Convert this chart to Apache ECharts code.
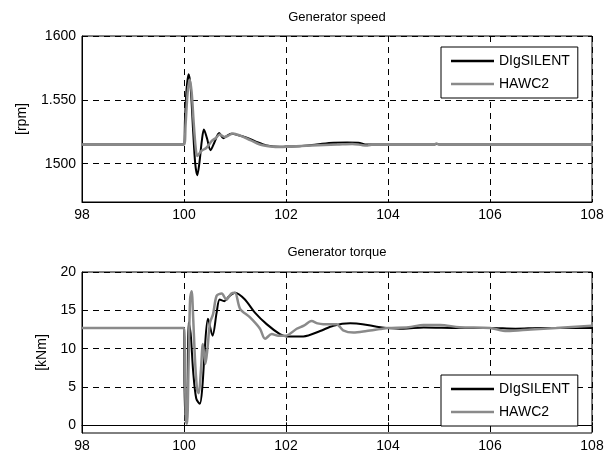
<!DOCTYPE html>
<html>
<head>
<meta charset="utf-8">
<script src="https://cdn.jsdelivr.net/npm/echarts@6/dist/echarts.min.js"></script>
<style>html,body{margin:0;padding:0;background:#fff}#c{width:613px;height:453px}</style>
</head>
<body>
<div id="c"></div>
<script>
// ---- data ----
var xTicks = [98, 100, 102, 104, 106, 108];
var speedTicks = [1500, 1550, 1600];
var speedTickLabels = ['1500', '1.550', '1600'];
var torqueTicks = [0, 5, 10, 15, 20];
var torqueTickLabels = ['0', '5', '10', '15', '20'];

var speedT_dig = [98, 99.99, 100.02, 100.05, 100.09, 100.13, 100.18, 100.22, 100.26, 100.30, 100.35, 100.39, 100.45, 100.52, 100.6, 100.69, 100.77, 100.85, 100.93, 101.05, 101.23, 101.4, 101.62, 101.88, 102.0, 102.27, 102.6, 102.93, 103.2, 103.42, 103.58, 103.8, 104.9, 104.96, 105.02, 108];
var speedV_dig = [1515, 1515, 1535, 1558, 1570, 1560, 1525, 1500, 1491, 1500, 1518, 1526.7, 1520, 1510.6, 1517, 1524, 1520, 1522, 1523.4, 1522.5, 1520.3, 1517.5, 1514.3, 1513.2, 1513.5, 1513.7, 1515, 1516.4, 1516.5, 1516.4, 1515, 1515, 1515, 1515.5, 1515, 1515];

var speedT_hawc = [98, 100.0, 100.03, 100.07, 100.11, 100.15, 100.19, 100.23, 100.26, 100.3, 100.34, 100.44, 100.55, 100.62, 100.70, 100.8, 100.87, 100.96, 101.1, 101.3, 101.49, 101.7, 101.88, 102.1, 102.5, 103.0, 103.3, 103.5, 103.6, 103.7, 104, 104.9, 104.95, 105.0, 108];
var speedV_hawc = [1515, 1515, 1530, 1555, 1566, 1556, 1532, 1512, 1506, 1508, 1510, 1512.5, 1518, 1520, 1522.8, 1521, 1522, 1523.6, 1522, 1518.5, 1515, 1513.5, 1513, 1513.5, 1514.3, 1515, 1515.5, 1514.5, 1514.3, 1515, 1515, 1515, 1515.8, 1515, 1515];

var torqueT_dig = [98, 100.0, 100.01, 100.03, 100.05, 100.07, 100.09, 100.13, 100.18, 100.24, 100.31, 100.36, 100.41, 100.47, 100.56, 100.64, 100.70, 100.79, 100.88, 101.0, 101.19, 101.39, 101.62, 101.88, 102.01, 102.34, 102.67, 102.93, 103.26, 103.5, 103.78, 103.98, 104.3, 104.7, 105.4, 106.0, 106.5, 107.0, 108];
var torqueV_dig = [12.7, 12.7, 5, 0.8, 0.6, 5, 13.4, 12, 7, 3.5, 2.8, 5, 10.2, 13.9, 11.7, 14.7, 16.4, 16.2, 16.8, 17.3, 16.45, 14.7, 13.2, 11.9, 11.6, 11.6, 12.3, 13.0, 13.3, 13.2, 12.86, 12.7, 12.6, 12.77, 12.7, 12.7, 12.6, 12.7, 12.7];

var torqueT_hawc = [98, 100.0, 100.02, 100.04, 100.06, 100.09, 100.12, 100.15, 100.18, 100.22, 100.26, 100.29, 100.33, 100.37, 100.42, 100.46, 100.51, 100.57, 100.64, 100.74, 100.83, 100.93, 101.0, 101.1, 101.29, 101.49, 101.59, 101.72, 101.85, 102.0, 102.21, 102.35, 102.5, 102.62, 102.73, 102.99, 103.12, 103.32, 103.58, 103.84, 104.0, 104.4, 104.7, 105.02, 105.4, 106.0, 106.33, 106.8, 107.3, 108];
var torqueV_hawc = [12.7, 12.7, 6, 0.5, 0.2, 8, 16.5, 17.5, 14, 8, 4.5, 4.2, 7, 10.6, 8.0, 10, 13.4, 14.5, 16.9, 17.2, 16.4, 17.2, 17.3, 15.2, 14.1, 12.6, 11.3, 11.9, 11.7, 11.7, 12.6, 13.0, 13.6, 13.3, 13.2, 13.2, 12.4, 12.1, 12.3, 12.55, 12.7, 12.8, 13.1, 13.1, 12.8, 12.7, 12.3, 12.5, 12.7, 13.0];

function pairs(t, v) { return t.map(function (x, i) { return [x, v[i]]; }); }
function labelFor(ticks, labels) {
  return function (val) { var i = ticks.indexOf(val); return i >= 0 ? labels[i] : ''; };
}

var FONT = "'Liberation Sans', Arial, sans-serif";
var dash = { color: '#000', width: 1, type: [6, 5] };
var BLACK = '#000000', GRAY = '#8a8a8a';

function xAx(gi) {
  return {
    type: 'value', gridIndex: gi, min: 98, max: 108, interval: 2,
    axisLine: { show: true, lineStyle: { color: '#000', width: 1 } },
    axisTick: { show: true, inside: true, length: 3, lineStyle: { color: '#000' } },
    axisLabel: { color: '#000', fontSize: 14, fontFamily: FONT, margin: 6, formatter: labelFor(xTicks, xTicks.map(String)) },
    splitLine: { show: true, lineStyle: dash }
  };
}
function yAx(gi, min, max, ticks, labels, name, gap) {
  return {
    type: 'value', gridIndex: gi, min: min, max: max,
    name: name, nameLocation: 'middle', nameGap: gap,
    nameTextStyle: { color: '#000', fontSize: 14, fontFamily: FONT },
    axisLine: { show: true, lineStyle: { color: '#000', width: 1 } },
    axisTick: { show: true, inside: true, length: 3, customValues: ticks, lineStyle: { color: '#000' } },
    axisLabel: { color: '#000', fontSize: 14, fontFamily: FONT, margin: 6, customValues: ticks, formatter: labelFor(ticks, labels) },
    splitLine: { show: true, lineStyle: dash }
  };
}
function legendAt(top) {
  return {
    orient: 'vertical', left: 441, top: top,
    data: [{ name: 'DIgSILENT', icon: 'rect', itemStyle: { color: BLACK } },
           { name: 'HAWC2', icon: 'rect', itemStyle: { color: GRAY } }],
    itemWidth: 43, itemHeight: 2.5, itemGap: 7,
    padding: [6, 8, 6, 10],
    borderColor: '#000', borderWidth: 1, backgroundColor: '#fff',
    textStyle: { color: '#000', fontSize: 14, fontFamily: FONT, lineHeight: 16 },
    selectedMode: false
  };
}

var chart = echarts.init(document.getElementById('c'), null, { renderer: 'canvas' });
chart.setOption({
  animation: false,
  backgroundColor: '#fff',
  title: [
    { text: 'Generator speed', left: 337, top: 11, textAlign: 'center', padding: 0,
      textStyle: { color: '#000', fontSize: 13, fontWeight: 'normal', fontFamily: FONT } },
    { text: 'Generator torque', left: 337, top: 246, textAlign: 'center', padding: 0,
      textStyle: { color: '#000', fontSize: 13, fontWeight: 'normal', fontFamily: FONT } }
  ],
  grid: [
    { left: 82, top: 36, width: 510, height: 166, show: true, borderColor: '#000', borderWidth: 1 },
    { left: 82, top: 272, width: 510, height: 161, show: true, borderColor: '#000', borderWidth: 1 }
  ],
  legend: [legendAt(47), legendAt(375)],
  xAxis: [xAx(0), xAx(1)],
  yAxis: [
    yAx(0, 1470, 1600, speedTicks, speedTickLabels, '[rpm]', 53),
    yAx(1, -1, 20, torqueTicks, torqueTickLabels, '[kNm]', 32)
  ],
  series: [
    { name: 'DIgSILENT', type: 'line', xAxisIndex: 0, yAxisIndex: 0, symbol: 'none', smooth: 0.3,
      lineStyle: { color: BLACK, width: 2 }, itemStyle: { color: BLACK }, data: pairs(speedT_dig, speedV_dig) },
    { name: 'HAWC2', type: 'line', xAxisIndex: 0, yAxisIndex: 0, symbol: 'none', smooth: 0.3,
      lineStyle: { color: GRAY, width: 2.5 }, itemStyle: { color: GRAY }, data: pairs(speedT_hawc, speedV_hawc) },
    { name: 'DIgSILENT', type: 'line', xAxisIndex: 1, yAxisIndex: 1, symbol: 'none', smooth: 0.3,
      lineStyle: { color: BLACK, width: 2 }, itemStyle: { color: BLACK }, data: pairs(torqueT_dig, torqueV_dig) },
    { name: 'HAWC2', type: 'line', xAxisIndex: 1, yAxisIndex: 1, symbol: 'none', smooth: 0.3,
      lineStyle: { color: GRAY, width: 2.5 }, itemStyle: { color: GRAY }, data: pairs(torqueT_hawc, torqueV_hawc) }
  ]
});
</script>
</body>
</html>
